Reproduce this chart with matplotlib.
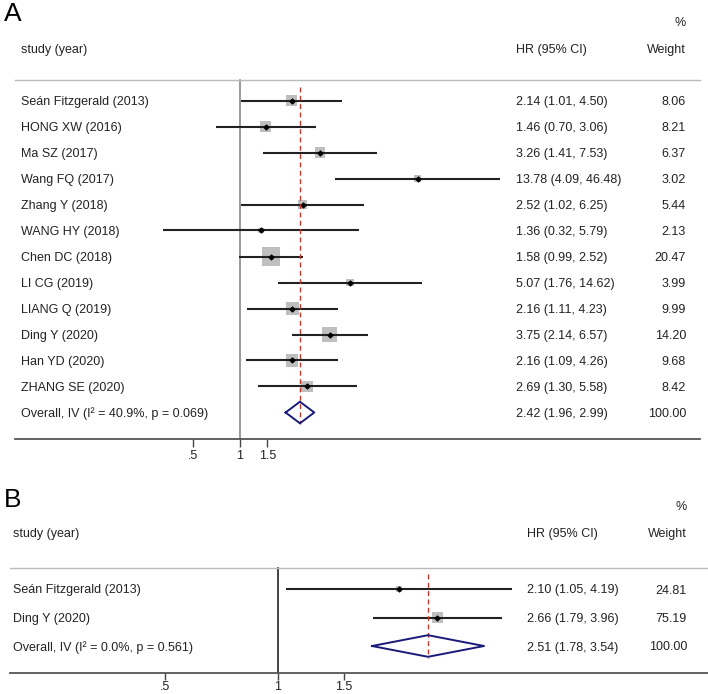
import numpy as np
import matplotlib
matplotlib.use("Agg")
import matplotlib.pyplot as plt
from matplotlib.ticker import NullLocator

plt.rcParams['font.family'] = ['Liberation Sans', 'DejaVu Sans']

# panel A data
studies_a = ['Seán Fitzgerald (2013)', 'HONG XW (2016)', 'Ma SZ (2017)', 'Wang FQ (2017)',
             'Zhang Y (2018)', 'WANG HY (2018)', 'Chen DC (2018)', 'LI CG (2019)',
             'LIANG Q (2019)', 'Ding Y (2020)', 'Han YD (2020)', 'ZHANG SE (2020)']
hr_a = [2.14, 1.46, 3.26, 13.78, 2.52, 1.36, 1.58, 5.07, 2.16, 3.75, 2.16, 2.69]
lo_a = [1.01, 0.70, 1.41, 4.09, 1.02, 0.32, 0.99, 1.76, 1.11, 2.14, 1.09, 1.30]
hi_a = [4.50, 3.06, 7.53, 46.48, 6.25, 5.79, 2.52, 14.62, 4.23, 6.57, 4.26, 5.58]
wt_a = [8.06, 8.21, 6.37, 3.02, 5.44, 2.13, 20.47, 3.99, 9.99, 14.20, 9.68, 8.42]
overall_a = (2.42, 1.96, 2.99)
overall_label_a = 'Overall, IV (I² = 40.9%, p = 0.069)'

# panel B data
studies_b = ['Seán Fitzgerald (2013)', 'Ding Y (2020)']
hr_b = [2.10, 2.66]
lo_b = [1.05, 1.79]
hi_b = [4.19, 3.96]
wt_b = [24.81, 75.19]
overall_b = (2.51, 1.78, 3.54)
overall_label_b = 'Overall, IV (I² = 0.0%, p = 0.561)'

tick_vals = [0.5, 1, 1.5]
tick_labels = ['.5', '1', '1.5']

W, H = 708, 694
TXT = '#222222'
FS = 9.0

fig = plt.figure(figsize=(W / 100, H / 100), dpi=100)


def panel(top_px, bot_px, row0, step, null_px, px_per_ln, line_x, cols, box_k,
          null_color, studies, hr, lo, hi, wt, overall, overall_label, letter, head,
          tick_len, tick_pad):
    ax = fig.add_axes([0, 1 - bot_px / H, 1, (bot_px - top_px) / H])
    ax.set_xscale('log')
    ax.set_xlim(np.exp(-null_px / px_per_ln), np.exp((W - null_px) / px_per_ln))
    yp = lambda px: (px - row0) / step
    ax.set_ylim(yp(bot_px), yp(top_px))
    for s in ax.spines.values():
        s.set_visible(False)
    ax.set_yticks([])
    ax.xaxis.set_minor_locator(NullLocator())
    ax.set_xticks(tick_vals)
    ax.set_xticklabels(tick_labels)
    ax.tick_params(axis='x', length=tick_len, width=1, color='#444444', pad=tick_pad,
                   labelsize=FS, labelcolor=TXT)
    tr = ax.get_yaxis_transform()
    n = len(studies)
    rows = np.arange(n)
    yo = n
    vb = 'center_baseline'

    # header
    ax.text(4 / W, yp(head[0]), letter, fontsize=19, ha='left', va='center',
            color='black', transform=tr)
    ax.text(cols[2] / W, yp(head[1]), '%', fontsize=FS, ha='right', va=vb,
            color=TXT, transform=tr)
    ax.text(cols[0] / W, yp(head[2]), 'study (year)', fontsize=FS, ha='left',
            va=vb, color=TXT, transform=tr)
    ax.text(cols[1] / W, yp(head[2]), 'HR (95% CI)', fontsize=FS, ha='left',
            va=vb, color=TXT, transform=tr)
    ax.text(cols[2] / W, yp(head[2]), 'Weight', fontsize=FS, ha='right',
            va=vb, color=TXT, transform=tr)
    ax.plot([line_x[0] / W, line_x[1] / W], [yp(head[3])] * 2, color='#bbbbbb',
            lw=1.0, transform=tr, clip_on=False)
    ax.plot([line_x[0] / W, line_x[1] / W], [yp(bot_px)] * 2, color='#555555',
            lw=1.3, transform=tr, clip_on=False)

    # null line
    ax.plot([1, 1], [yp(head[3]), yp(bot_px)], color=null_color, lw=1.2, zorder=1)

    # studies
    ax.scatter(hr, rows, s=(box_k * np.sqrt(wt) * 0.72) ** 2, marker='s',
               color='#bfbfbf', edgecolor='none', zorder=2)
    ax.hlines(rows, lo, hi, color='#222222', lw=1.5, zorder=3)
    ax.scatter(hr, rows, s=6, marker='D', color='black', zorder=4)

    # overall diamond and line
    est, l, h = overall
    dh = 10.8 / step
    ax.plot([l, est, h, est, l], [yo, yo - dh, yo, yo + dh, yo], color='#1a1a7a',
            lw=1.4, zorder=5)
    ax.plot([est, est], [-0.52, yo + dh + 0.03], color='#c0392b', lw=1.0,
            dashes=(3.5, 2.5), zorder=4)

    labels = list(studies) + [overall_label]
    cis = ['%.2f (%.2f, %.2f)' % v for v in zip(hr, lo, hi)] + \
          ['%.2f (%.2f, %.2f)' % overall]
    wts = ['%.2f' % w for w in wt] + ['100.00']
    for i in range(n + 1):
        ax.text(cols[0] / W, i, labels[i], fontsize=FS, ha='left', va=vb,
                color=TXT, transform=tr)
        ax.text(cols[1] / W, i, cis[i], fontsize=FS, ha='left', va=vb,
                color=TXT, transform=tr)
        ax.text(cols[2] / W, i, wts[i], fontsize=FS, ha='right', va=vb,
                color=TXT, transform=tr)
    return ax


panel(0, 439, 100.5, 26.0, 240, 67.8, (15, 700), (21, 516, 686), 4.0, '#888888',
      studies_a, hr_a, lo_a, hi_a, wt_a, overall_a, overall_label_a, 'A',
      (14, 21, 49, 80), 6, 2)
panel(470, 673, 589, 28.5, 278, 163, (10, 708), (13, 527, 687), 1.27, '#222222',
      studies_b, hr_b, lo_b, hi_b, wt_b, overall_b, overall_label_b, 'B',
      (500, 505, 533, 568), 5, 0.5)

fig.savefig('out.png', dpi=100)
